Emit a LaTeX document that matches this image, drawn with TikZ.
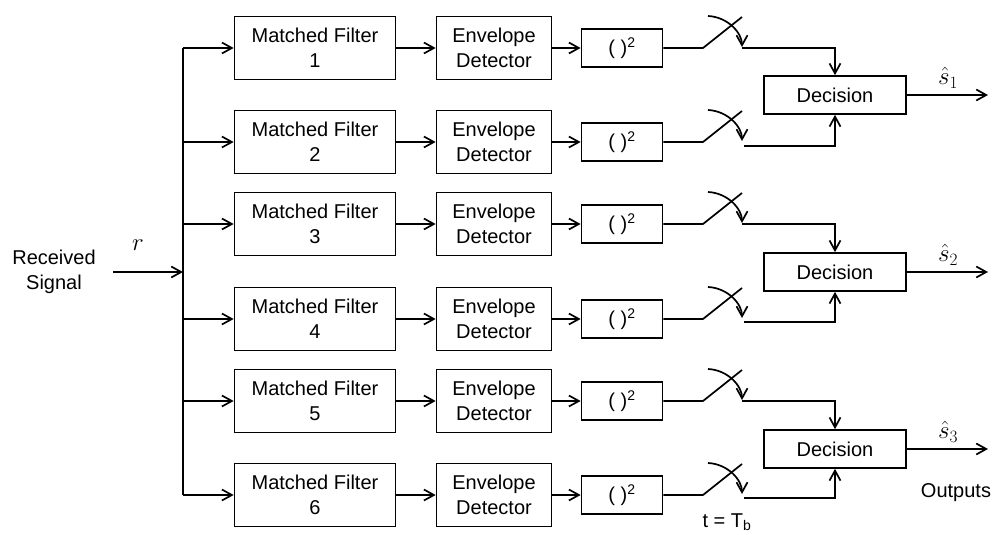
\documentclass[tikz,border=0pt]{standalone}
\usepackage{fontspec}
\setmainfont{Liberation Sans}
\usetikzlibrary{arrows.meta}
\begin{document}
\begin{tikzpicture}[x=1pt,y=-1pt,
  line width=1.7pt,
  txt/.style={font=\fontsize{20}{25}\selectfont, inner sep=0pt},
  mth/.style={font=\fontsize{23}{26}\selectfont, inner sep=0pt},
  box/.style={txt, draw, align=center},
  mf/.style={box, minimum width=161pt, minimum height=63pt},
  env/.style={box, minimum width=115pt, minimum height=63pt},
  sq/.style={box, minimum width=81pt, minimum height=38pt},
  dec/.style={box, minimum width=142pt, minimum height=38pt},
  arr/.style={-{Straight Barb[length=10pt,width=11pt,line width=1.7pt]}}]
\useasboundingbox (0,0) rectangle (994,535);

% input
\node[txt, align=center] (rx) at (54,272) {Received\\Signal};
\coordinate (rin) at (113,272);
\coordinate (bus) at (183,272);
\draw[arr] (rin) -- (bus);
\node[mth] (rlab) at (138,245) {$r$};

% six receiver branches
\foreach \i/\y in {1/48,2/142,3/224,4/319,5/401,6/495}{
  \coordinate (br\i) at (183,\y);
  \node[mf]  (mf\i) at (315,\y) {Matched Filter\\\i};
  \node[env] (ed\i) at (494,\y) {Envelope\\Detector};
  \node[sq]  (sq\i) at (622,\y) {( )\textsuperscript{2}};
  \coordinate (sa\i) at (703,\y);
  \coordinate (sb\i) at (742,\y-31);
  \coordinate (ca\i) at (708,\y-32);
  \coordinate (cb\i) at (742,\y-1);
  \draw[arr] (br\i) -- (mf\i);
  \draw[arr] (mf\i) -- (ed\i);
  \draw[arr] (ed\i) -- (sq\i);
  \draw (sq\i) -- (sa\i) -- (sb\i);
  \draw[arr] (ca\i) .. controls ++(20,1) and ++(0,-14) .. (cb\i);
}
\draw (br1) -- (br6);

% decision stages
\foreach \k/\u/\l/\d in {1/48/146/95,2/224/322/272,3/401/498/449}{
  \node[dec] (dec\k) at (835,\d) {Decision};
  \coordinate (su\k) at (742,\u);
  \coordinate (sl\k) at (744,\l);
  \coordinate (out\k) at (988,\d);
  \draw[arr] (su\k) -| (dec\k.north);
  \draw[arr] (sl\k) -| (dec\k.south);
  \draw[arr] (dec\k) -- (out\k);
  \node[mth] (s\k) at (948,\d-17) {$\hat{s}_{\k}$};
}

\node[txt] (outs) at (956,493) {Outputs};
\node[txt, anchor=base] (tlab) at (727,527) {t = T\textsubscript{b}};
\end{tikzpicture}
\end{document}
